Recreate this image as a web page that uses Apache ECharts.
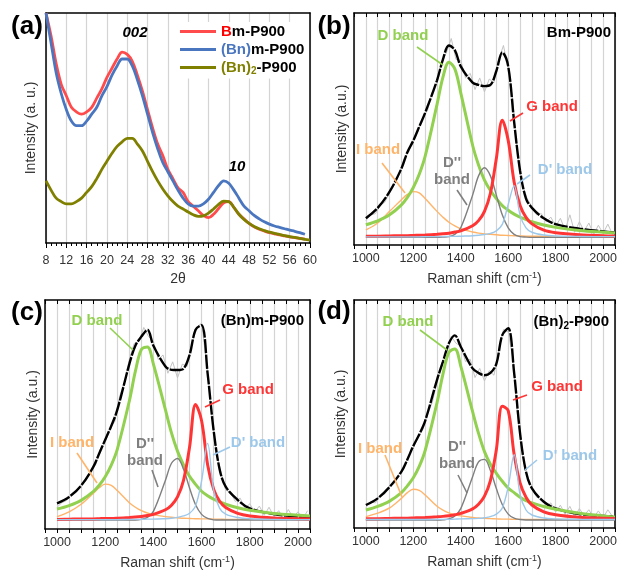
<!DOCTYPE html>
<html>
<head>
<meta charset="utf-8">
<script src="https://cdn.jsdelivr.net/npm/echarts@6/dist/echarts.min.js"></script>
<style>
  html, body { margin: 0; background: #fff; }
  #chart { width: 620px; height: 572px; }
</style>
</head>
<body>
<div id="chart"></div>
<script>
// ---- (a) XRD ----
const twoTheta = [8,9,10,11,12,13,14,15,16,17,18,19,20,21,22,23,24,25,26,27,28,29,30,31,32,33,34,35,36,37,38,39,40,41,42,43,44,45,46,47,48,49,50,51,52,53,54,55,56,57,58,59,60]
const xrdBm = [100,90,78,69,64,59,57,56,57,59,63,67,72,76,80,83,82,79,73,66,58,50,43,38,32,28,24,22,18,16,14,12,11,12.5,15,17.5,18,15.5,12.5,10.5,8.5,7,6,5.2,4.5,4,3.5,3.1,2.7,2.3,2,1.7,null]
const xrdBnm = [100,87,74,65,58,53,51,51,53,56,59,64,68,73,77,80,80,77,71,64,56,48,41,35,31,27,23,19.5,17,16,16,17,19,22,25,27,26,23,19.5,16,14,12,10.5,9.2,8.2,7.4,6.8,6.2,5.6,5.1,4.5,3.8,null]
const xrdBn2 = [27,23,19.5,18,17,17,18,19.5,22,24.5,28,32,35.5,39,42,44,45.5,45.5,43,40,35.5,31,27,23.5,20.5,18,16,14.8,13.5,12.3,11.6,11.8,13,14.8,16.8,18.2,18,15.5,12.5,10.2,8.5,7.2,6.2,5.4,4.7,4.2,3.7,3.2,2.8,2.4,2,1.6,1.2]
const xrdNames = ['Bm-P900', '(Bn)m-P900', '(Bn)2-P900']

// ---- Raman, shared wavenumber grid ----
const ramanX = [1000,1050,1100,1150,1175,1200,1225,1250,1300,1325,1350,1375,1400,1450,1475,1500,1525,1550,1575,1600,1625,1650,1675,1700,1750,1800,1900,2000,2050]
const rawX = [1000,1020,1040,1060,1080,1100,1120,1140,1160,1180,1200,1220,1240,1260,1280,1300,1320,1340,1360,1380,1400,1420,1440,1460,1480,1500,1520,1540,1560,1580,1600,1620,1640,1660,1680,1700,1720,1740,1760,1780,1800,1820,1840,1860,1880,1900,1920,1940,1960,1980,2000,2020,2040]

// (b) Bm-P900
const bI = [6.5,9.5,14.5,19.5,21.8,23,22.5,20,14.5,12,9.8,8.2,7,5.6,5.1,4.8,4.6,4.4,4.2,4.1,4.0,3.9,3.8,3.8,3.7,3.6,3.5,3.5,3.5]
const bD = [8.7,10.4,13,17.3,20.5,24.8,30.5,38.3,60.6,72.4,78.8,75.9,65.6,43,34.5,28,23.5,20,17,15,13.3,12,11,10,8.6,7.6,6.3,5.5,5.2]
const bDpp = [3.3,3.3,3.3,3.3,3.3,3.3,3.3,3.3,3.3,3.4,3.6,4.6,7.4,21.5,29.8,33.3,29.8,21.5,13,7.4,4.6,3.6,3.4,3.3,3.3,3.3,3.3,3.3,3.3]
const bG = [3.8,3.8,3.9,4.0,4.0,4.1,4.2,4.3,4.6,4.8,5.1,5.6,6.1,8.3,10.5,14.5,22.3,37.3,53.8,45.1,27.2,17,11.9,9.1,6.4,5.3,4.4,4.0,3.9]
const bDp = [3.5,3.5,3.5,3.5,3.5,3.5,3.5,3.6,3.6,3.6,3.7,3.7,3.8,4.0,4.2,4.5,5.0,6.1,8.9,17.5,25.6,12.9,7.4,5.5,4.3,3.9,3.7,3.6,3.6]
const bFit = [11.5,16,23,33,40,45,51,57,71,80,86,84,77,70,69,68.5,69,75,83,77,53,32,20,16,11.5,9,7,5.8,5.4]
const bRaw = [10.5,13,13.5,17,18.5,22.5,26,30.5,37,40,45.5,49,55,58,66,70,79,83,89,80,79.5,72,74,67,72,66,71.5,70,80,86,76,62,38,26,20,16.5,13,13.5,10,12,8,11.5,6.5,13,5.5,10,6,9.5,4.5,8.5,5,9,4.5]

// (c) (Bn)m-P900
const cI = [5.4,7.5,10.8,15.5,18,19.6,19,16.8,11.5,9.5,8,7,6.3,5.4,5.1,4.9,4.7,4.6,4.5,4.4,4.4,4.3,4.3,4.2,4.2,4.2,4.2,4.2,4.2]
const cD = [8.7,10.2,12.5,16.3,19.1,22.8,27.9,34.8,55.9,68.8,78.4,79.5,72,52,42,34,28,23,19.5,16.5,14.5,13,11.8,10.8,9.3,8.2,6.8,6,5.7]
const cDpp = [3.9,3.9,3.9,3.9,3.9,3.9,3.9,3.9,3.9,3.9,4.2,5.1,7.7,21.3,28.7,30.8,26.1,17.9,10.6,6.4,4.6,4.0,3.9,3.9,3.9,3.9,3.9,3.9,3.9]
const cG = [4.2,4.3,4.4,4.4,4.5,4.6,4.6,4.7,5.0,5.2,5.5,5.9,6.4,8.4,10.4,14,21.2,35.7,54.4,47.3,28.1,17.4,12.1,9.4,6.8,5.7,4.8,4.5,4.4]
const cDp = [4.1,4.1,4.1,4.1,4.1,4.1,4.1,4.1,4.2,4.2,4.2,4.3,4.3,4.5,4.7,5.1,5.7,6.9,10.1,21,37.4,17,9,6.5,5,4.5,4.2,4.1,4.1]
const cFit = [11.2,14,19,27,33,39,45,52,72,80,84,87,80,71,69.5,69.4,70,76,87,89,68,43,26,18.5,12.7,9,6.5,5.4,5]
const cRaw = [9.5,11.5,12.5,15,16,19.5,21,25.5,28,35,38,44,47,58,64,74,81,82,88,84,82,74,76,68,73,66,72,71,81,88,90,73,52,34,25,17,16,12,13.5,9,11,7.5,10,6,9.5,5.5,8,4.5,8.5,5,7.5,4.5,8]

// (d) (Bn)2-P900
const dI = [5,6.5,8.8,13,15.5,17,16.5,14.5,9.5,7.8,6.6,5.8,5.3,4.6,4.4,4.2,4.1,4.0,3.9,3.9,3.8,3.8,3.8,3.8,3.8,3.8,3.8,3.8,3.8]
const dD = [7.9,9.5,11.8,15.5,18.5,22,27,34,55,67.5,77,78.5,71,51,41.5,33.5,28,24,20.5,17.5,15.5,13.5,12,11,9.4,8.2,6.5,5.3,4.8]
const dDpp = [3.5,3.5,3.5,3.5,3.5,3.5,3.5,3.5,3.5,3.6,4.0,5.3,8.5,22.5,29,30.1,25.2,17.3,10.3,6.1,4.3,3.7,3.5,3.5,3.5,3.5,3.5,3.5,3.5]
const dG = [4.1,4.1,4.2,4.3,4.3,4.4,4.5,4.6,4.9,5.1,5.4,5.8,6.4,8.4,10.4,14,20.8,34.3,53.4,51.5,32.3,19.8,13.5,10.1,7.1,5.8,4.7,4.3,4.2]
const dDp = [3.7,3.7,3.7,3.7,3.7,3.7,3.7,3.7,3.8,3.8,3.8,3.9,4.0,4.1,4.2,4.5,5.0,6.1,8.8,18.1,32.1,14.7,7.9,5.7,4.4,4.0,3.8,3.7,3.7]
const dFit = [10.1,13,18,24.7,30,36,41,47,65,73,81,84.5,79.5,70,68,67,68,72,84.6,87.6,68,41.5,24.7,17.4,11.5,8.6,6.1,5.3,5]
const dRaw = [9,11.5,11,14.5,15,18.5,19.5,24,26,32,35,40,43,50,55,64,72,76,84,81,80,73,74,66,70,64.5,69,67,78,87,86,74,49,32,23,18,13.5,13,9.5,11,7,10,6,9.5,5,8.5,5.5,8,4.5,7.5,4.5,8,5]

const FONT = "'Liberation Sans', Arial, sans-serif"
const C = {
  xrdRed: '#ff4b4b', xrdBlue: '#4a76c0', olive: '#808000',
  green: '#92d050', red: '#ff3535', orange: '#ffb469', gray: '#7f7f7f', sky: '#9dc8ea',
  grid: '#d4d4d4',
}

const pairs = (xs, ys) => xs.map((x, i) => [x, ys[i]]).filter(p => p[1] != null)

const grids = [
  { left: 46, top: 13, width: 264, height: 230 },
  { left: 354, top: 13, width: 263, height: 232 },
  { left: 45, top: 300, width: 265, height: 229 },
  { left: 354, top: 300, width: 263, height: 228 },
]

const frameLine = { show: true, onZero: false, lineStyle: { color: '#000', width: 1.5 } }
const tickText = { color: '#333', fontSize: 12.5, fontFamily: FONT }
const titleText = { color: '#333', fontSize: 14, fontFamily: FONT }

const xAxes = []
const yAxes = []

// (a) axes
xAxes.push({
  gridIndex: 0, type: 'value', position: 'bottom', min: 8, max: 60, interval: 4,
  axisLine: frameLine,
  axisTick: { length: 5, lineStyle: { color: '#000' } },
  minorTick: { show: true, splitNumber: 4, length: 3, lineStyle: { color: '#000' } },
  axisLabel: { ...tickText, margin: 11 },
  splitLine: { show: true, lineStyle: { color: C.grid, width: 1.2 } },
  name: '2θ', nameLocation: 'middle', nameGap: 29, nameTextStyle: titleText,
})
xAxes.push({
  gridIndex: 0, type: 'value', position: 'top', min: 8, max: 60, interval: 4,
  axisLine: frameLine, axisTick: { show: false }, axisLabel: { show: false }, splitLine: { show: false },
})

// Raman axes for grids 1..3
for (let g = 1; g <= 3; g++) {
  xAxes.push({
    gridIndex: g, type: 'value', position: 'bottom', min: 950, max: 2050, interval: 50,
    axisLine: frameLine,
    axisTick: { length: 4, lineStyle: { color: '#000' } },
    axisLabel: { ...tickText, margin: 7, formatter: v => (v % 200 === 0 ? String(v) : '') },
    splitLine: { show: true, lineStyle: { color: C.grid, width: 1.2 } },
    name: '{t|Raman shift (cm}{s|-1}{t|)}', nameLocation: 'middle', nameGap: 26,
    nameTextStyle: { rich: { t: titleText, s: { color: '#333', fontSize: 9, fontFamily: FONT, padding: [0, 0, 8, 0] } } },
  })
  xAxes.push({
    gridIndex: g, type: 'value', position: 'top', min: 950, max: 2050, interval: 50,
    axisLine: frameLine, axisTick: { inside: true, length: 4, lineStyle: { color: '#000' } },
    axisLabel: { show: false }, splitLine: { show: false },
  })
}

const yNames = ['Intensity (a. u.)', 'Intensity (a.u.)', 'Intensity (a.u.)', 'Intensity (a.u.)']
const yGaps = [8, 5, 5, 6]
for (let g = 0; g < 4; g++) {
  yAxes.push({
    gridIndex: g, type: 'value', position: 'left', min: 0, max: 100,
    axisLine: frameLine, axisTick: { show: false }, axisLabel: { show: false }, splitLine: { show: false },
    name: yNames[g], nameLocation: 'middle', nameGap: yGaps[g], nameTextStyle: titleText,
  })
  yAxes.push({
    gridIndex: g, type: 'value', position: 'right', min: 0, max: 100,
    axisLine: frameLine, axisTick: { show: false }, axisLabel: { show: false }, splitLine: { show: false },
  })
}

const line = (name, xi, yi, data, color, width, extra) => ({
  name, type: 'line', xAxisIndex: xi, yAxisIndex: yi, data,
  showSymbol: false, symbol: 'none', smooth: 0.35, color,
  lineStyle: { color, width, ...(extra || {}) },
  emphasis: { disabled: true }, animation: false,
})

const series = [
  line(xrdNames[0], 0, 0, pairs(twoTheta, xrdBm), C.xrdRed, 2.8),
  line(xrdNames[1], 0, 0, pairs(twoTheta, xrdBnm), C.xrdBlue, 2.8),
  line(xrdNames[2], 0, 0, pairs(twoTheta, xrdBn2), C.olive, 2.8),
]

const ramanSets = [
  [bI, bD, bDpp, bG, bDp, bFit, bRaw],
  [cI, cD, cDpp, cG, cDp, cFit, cRaw],
  [dI, dD, dDpp, dG, dDp, dFit, dRaw],
]
ramanSets.forEach(([I, D, Dpp, G, Dp, fit, raw], k) => {
  const xi = 2 + 2 * k
  const yi = 2 + 2 * k
  series.push(
    line('raw', xi, yi, pairs(rawX, raw), '#c4c4c4', 1, null),
    line('fit', xi, yi, pairs(ramanX, fit), '#000', 2.4, { type: [14, 1.5] }),
    line('I', xi, yi, pairs(ramanX, I), C.orange, 1.4),
    line('D', xi, yi, pairs(ramanX, D), C.green, 3),
    line('Dpp', xi, yi, pairs(ramanX, Dpp), C.gray, 1.4),
    line('G', xi, yi, pairs(ramanX, G), C.red, 3),
    line('Dp', xi, yi, pairs(ramanX, Dp), C.sky, 1.4),
  )
  series[series.length - 7].smooth = 0
})

// annotations (pixel layout)
const txt = (x, y, text, fill, size, align, rich, extra) => ({
  type: 'text', x, y, z: 100, silent: true,
  style: {
    text, fill, font: `bold ${size}px ${FONT}`,
    align: align || 'center', verticalAlign: 'middle',
    textAlign: align || 'center', textVerticalAlign: 'middle',
    rich, ...(extra || {}),
  },
})
const seg = (x1, y1, x2, y2, stroke) => ({
  type: 'line', z: 100, silent: true,
  shape: { x1, y1, x2, y2 }, style: { stroke, lineWidth: 1.6 },
})

const subRich = {
  n: { font: `bold 15px ${FONT}`, fill: '#000' },
  s: { font: `bold 10px ${FONT}`, fill: '#000', padding: [8, 0, 0, 0] },
}

const graphic = [
  txt(27, 27, '(a)', '#000', 26), txt(334, 27, '(b)', '#000', 26),
  txt(27, 313, '(c)', '#000', 26), txt(334, 312, '(d)', '#000', 26),
  txt(135, 33, '002', '#000', 15, 'center', null, { font: `italic bold 15px ${FONT}` }),
  txt(237, 167, '10', '#000', 15, 'center', null, { font: `italic bold 15px ${FONT}` }),

  // (b)
  txt(403, 36, 'D band', C.green, 15), txt(611, 33, 'Bm-P900', '#000', 15, 'right'),
  txt(552, 107, 'G band', C.red, 15), txt(378, 150, 'I band', C.orange, 15),
  txt(452, 171, "D''\nband", C.gray, 15, 'center', null, { lineHeight: 17 }),
  txt(565, 170, "D' band", C.sky, 15),
  seg(417, 47, 443, 65, C.green), seg(523, 113, 510, 121, C.red),
  seg(382, 163, 405, 193, C.orange), seg(457, 190, 467, 205, C.gray), seg(530, 175, 517, 184, C.sky),

  // (c)
  txt(97, 321, 'D band', C.green, 15), txt(304, 321, '(Bn)m-P900', '#000', 15, 'right'),
  txt(248, 390, 'G band', C.red, 15), txt(72, 443, 'I band', C.orange, 15),
  txt(145, 452, "D''\nband", C.gray, 15, 'center', null, { lineHeight: 17 }),
  txt(258, 443, "D' band", C.sky, 15),
  seg(110, 328, 133, 350, C.green), seg(220, 400, 205, 407, C.red),
  seg(77, 453, 97, 483, C.orange), seg(152, 470, 158, 487, C.gray), seg(230, 447, 213, 455, C.sky),

  // (d)
  txt(408, 322, 'D band', C.green, 15),
  txt(609, 322, '{n|(Bn)}{s|2}{n|-P900}', '#000', 15, 'right', subRich),
  txt(557, 387, 'G band', C.red, 15), txt(380, 449, 'I band', C.orange, 15),
  txt(457, 455, "D''\nband", C.gray, 15, 'center', null, { lineHeight: 17 }),
  txt(570, 456, "D' band", C.sky, 15),
  seg(420, 330, 447, 350, C.green), seg(527, 395, 513, 400, C.red),
  seg(385, 455, 402, 497, C.orange), seg(458, 475, 467, 493, C.gray), seg(537, 460, 525, 470, C.sky),
]

const legendRich = {
  k: { color: '#000', fontSize: 15, fontWeight: 'bold', fontFamily: FONT },
  r: { color: '#ff0000', fontSize: 15, fontWeight: 'bold', fontFamily: FONT },
  b: { color: C.xrdBlue, fontSize: 15, fontWeight: 'bold', fontFamily: FONT },
  o: { color: C.olive, fontSize: 15, fontWeight: 'bold', fontFamily: FONT },
  os: { color: C.olive, fontSize: 10, fontWeight: 'bold', fontFamily: FONT, padding: [8, 0, 0, 0] },
}
const legendLabel = {
  'Bm-P900': '{r|B}{k|m-P900}',
  '(Bn)m-P900': '{b|(Bn)}{k|m-P900}',
  '(Bn)2-P900': '{o|(Bn)}{os|2}{k|-P900}',
}

const chart = echarts.init(document.getElementById('chart'), null, { renderer: 'canvas' })
chart.setOption({
  backgroundColor: '#fff',
  animation: false,
  textStyle: { fontFamily: FONT },
  grid: grids,
  xAxis: xAxes,
  yAxis: yAxes,
  legend: {
    data: xrdNames, orient: 'vertical', left: 176, top: 22,
    icon: 'rect', itemWidth: 36, itemHeight: 3, itemGap: 3,
    backgroundColor: '#fff', padding: [2, 4, 2, 4],
    formatter: n => legendLabel[n],
    textStyle: { rich: legendRich },
    selectedMode: false,
  },
  series,
  graphic,
})
</script>
</body>
</html>
